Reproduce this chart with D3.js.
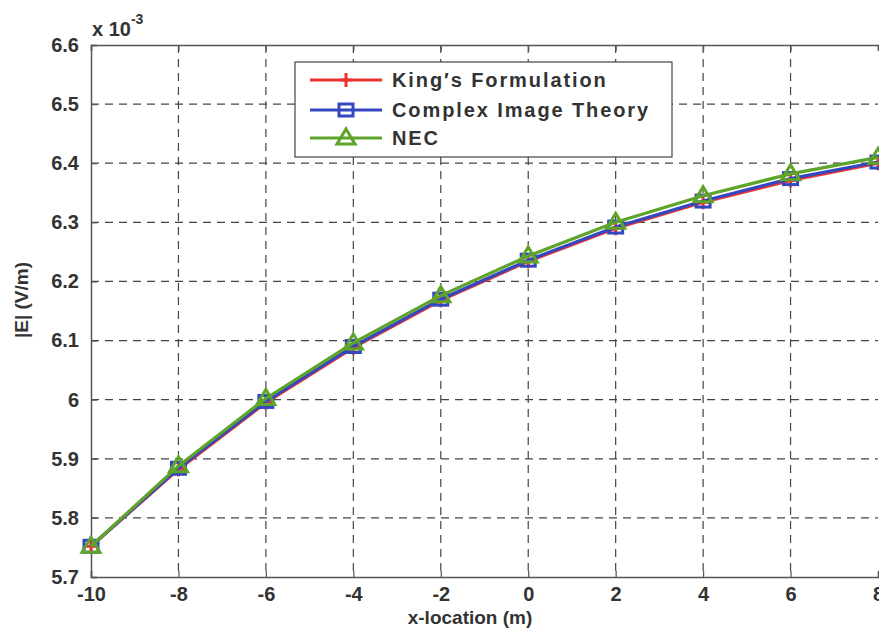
<!DOCTYPE html>
<html><head><meta charset="utf-8">
<script src="https://cdn.jsdelivr.net/npm/d3@7"></script>
<style>body{margin:0;background:#fff;} text{font-family:Arial,"Liberation Sans",sans-serif;font-weight:bold;}</style>
</head><body><svg id="c" width="879" height="632"></svg>
<script>
const xValues = [-10,-8,-6,-4,-2,0,2,4,6,8];
const kingValues = [5.752,5.882,5.995,6.088,6.168,6.234,6.290,6.334,6.371,6.400];
const citValues  = [5.752,5.884,5.997,6.090,6.170,6.236,6.292,6.336,6.374,6.402];
const necValues  = [5.752,5.888,6.002,6.096,6.176,6.243,6.300,6.345,6.382,6.410];
const xTicks = [-10,-8,-6,-4,-2,0,2,4,6,8];
const yTicks = [5.7,5.8,5.9,6,6.1,6.2,6.3,6.4,6.5,6.6];
const seriesNames = ["King\u2032s Formulation","Complex Image Theory","NEC"];
const seriesColors = ["#ee3333","#3347c0","#5ea32a"];

const svg = d3.select("#c");
const L=91,R=878,T=45,B=577;
const x = d3.scaleLinear().domain([-10,8]).range([L,R]);
const y = d3.scaleLinear().domain([5.7,6.6]).range([B,T]);
const textColor="#333";

// grid
const g = svg.append("g");
g.selectAll(".vx").data(xTicks.filter(d=>d>-10&&d<8)).enter().append("line")
 .attr("x1",d=>x(d)).attr("x2",d=>x(d)).attr("y1",T).attr("y2",B)
 .attr("stroke","#444").attr("stroke-width",1.2).attr("stroke-dasharray","8,6");
g.selectAll(".hy").data(yTicks.filter(d=>d>5.7&&d<6.6)).enter().append("line")
 .attr("x1",L).attr("x2",R).attr("y1",d=>y(d)).attr("y2",d=>y(d))
 .attr("stroke","#444").attr("stroke-width",1.2).attr("stroke-dasharray","8,6");

// axes
const xAxis = svg.append("g").attr("transform",`translate(0,${B})`)
 .call(d3.axisBottom(x).tickValues(xTicks).tickSize(-6).tickPadding(10).tickFormat(d=>String(d)));
const yAxis = svg.append("g").attr("transform",`translate(${L},0)`)
 .call(d3.axisLeft(y).tickValues(yTicks).tickSize(-6).tickPadding(12).tickFormat(d=>String(+d.toFixed(1))));
const topAxis = svg.append("g").attr("transform",`translate(0,${T})`)
 .call(d3.axisTop(x).tickValues(xTicks).tickSize(-6).tickFormat(""));
[xAxis,yAxis,topAxis].forEach(a=>{
  a.selectAll("path").attr("stroke","#555").attr("stroke-width",1.5);
  a.selectAll("line").attr("stroke","#555").attr("stroke-width",1.2);
  a.selectAll("text").attr("fill",textColor).style("font-size","20px").style("font-family","Arial, 'Liberation Sans', sans-serif").style("font-weight","bold");
});

// series
const sets=[kingValues,citValues,necValues];
const line = d3.line().x((d,i)=>x(xValues[i])).y(d=>y(d));
const plot = svg.append("g");
function marker(sel,k,cx,cy){
  const c=seriesColors[k];
  if(k===0){
    sel.append("line").attr("x1",cx-6).attr("x2",cx+6).attr("y1",cy).attr("y2",cy).attr("stroke",c).attr("stroke-width",3);
    sel.append("line").attr("x1",cx).attr("x2",cx).attr("y1",cy-7).attr("y2",cy+7).attr("stroke",c).attr("stroke-width",3);
  } else if(k===1){
    sel.append("rect").attr("x",cx-7).attr("y",cy-6).attr("width",14).attr("height",12).attr("fill","none").attr("stroke",c).attr("stroke-width",3);
  } else {
    sel.append("path").attr("d",`M${cx},${cy-9}L${cx+9},${cy+6}L${cx-9},${cy+6}Z`).attr("fill","none").attr("stroke",c).attr("stroke-width",3);
  }
}
sets.forEach((vals,k)=>{
  plot.append("path").datum(vals).attr("d",line).attr("fill","none").attr("stroke",seriesColors[k]).attr("stroke-width",3.2);
  vals.forEach((v,i)=>marker(plot,k,x(xValues[i]),y(v)));
});

// legend
const lg = svg.append("g");
lg.append("rect").attr("x",295).attr("y",62).attr("width",377).attr("height",95).attr("fill","#fff").attr("stroke","#444").attr("stroke-width",1.2);
const rows=[80,110,138];
seriesNames.forEach((n,k)=>{
  lg.append("line").attr("x1",310).attr("x2",382).attr("y1",rows[k]).attr("y2",rows[k]).attr("stroke",seriesColors[k]).attr("stroke-width",3.2);
  marker(lg,k,346,rows[k]);
  lg.append("text").attr("x",392).attr("y",rows[k]+7).attr("fill",textColor).style("font-size","20px").style("letter-spacing","1.9px").text(n);
});

// labels
svg.append("text").attr("x",470).attr("y",624).attr("text-anchor","middle").attr("fill",textColor).style("font-size","19px").text("x-location (m)");
svg.append("text").attr("transform","translate(28,300) rotate(-90)").attr("text-anchor","middle").attr("fill",textColor).style("font-size","19px").text("|E| (V/m)");
const ex = svg.append("text").attr("x",92).attr("y",36).attr("fill",textColor).style("font-size","20px");
ex.append("tspan").text("x 10");
ex.append("tspan").attr("dy",-12).style("font-size","14px").text("-3");
</script></body></html>
